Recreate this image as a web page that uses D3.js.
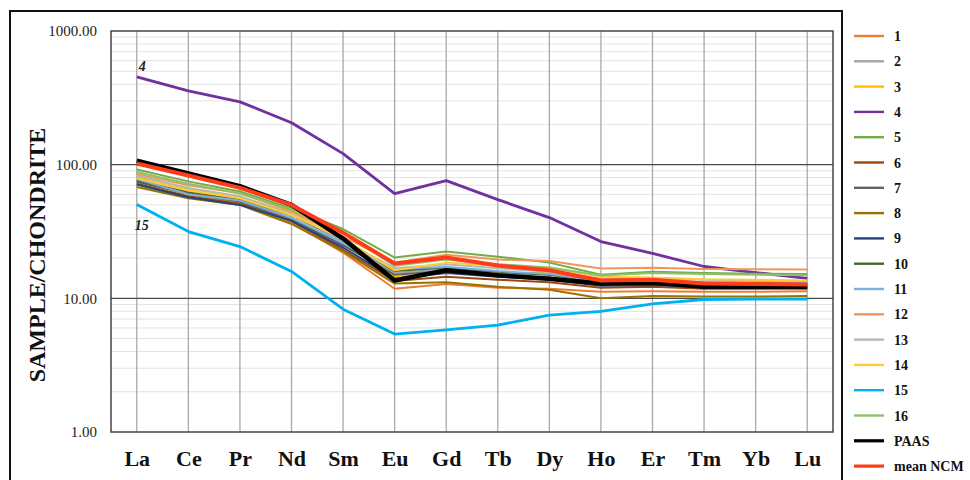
<!DOCTYPE html>
<html>
<head>
<meta charset="utf-8">
<script src="https://cdn.jsdelivr.net/npm/d3@7"></script>
<style>
  body { margin: 0; background: #fff; }
  svg text { font-family: "Liberation Serif", "Times New Roman", serif; }
</style>
</head>
<body>
<svg id="chart" width="970" height="480"></svg>
<script>
// REE elements along the x axis
var elements = ["La","Ce","Pr","Nd","Sm","Eu","Gd","Tb","Dy","Ho","Er","Tm","Yb","Lu"];
var yTicks = [1, 10, 100, 1000];

// chondrite-normalised values
var s1  = [75, 60, 52, 37, 22, 11.8, 12.8, 12.0, 11.8, 11.2, 11.3, 11.2, 11.2, 11.3];
var s2  = [80, 63, 55, 40, 25, 15.5, 16.5, 15.5, 15.0, 13.5, 13.5, 13.0, 13.0, 13.0];
var s3  = [82, 66, 57, 44, 27, 14.5, 15.5, 15.5, 15.5, 13.5, 13.8, 13.2, 12.8, 12.5];
var s4  = [454, 357, 295, 206, 121, 60.8, 76, 54.8, 40.2, 26.6, 21.7, 17.3, 15.6, 14.1];
var s5  = [92, 75, 63, 47, 33, 20.2, 22.4, 20.5, 18.5, 15.0, 15.8, 15.5, 15.3, 15.2];
var s6  = [72, 58, 51, 38, 23, 13.5, 14.5, 13.8, 13.2, 12.0, 12.2, 11.8, 11.8, 11.8];
var s7  = [74, 61, 53, 39, 25, 15.0, 16.0, 15.0, 14.3, 12.8, 13.0, 12.6, 12.6, 12.5];
var s8  = [68, 56, 50, 36, 22.5, 12.9, 13.2, 12.2, 11.6, 10.0, 10.4, 10.3, 10.3, 10.4];
var s9  = [71, 57, 50, 38, 24, 14.0, 15.5, 14.5, 13.8, 12.4, 12.6, 12.2, 12.2, 12.1];
var s10 = [76, 62, 55, 42, 27, 16.0, 17.0, 15.8, 15.0, 13.2, 13.4, 13.0, 12.9, 12.8];
var s11 = [78, 60, 54, 40, 26, 16.5, 17.2, 16.0, 15.2, 13.4, 13.6, 13.2, 13.2, 13.0];
var s12 = [85, 70, 61, 45, 29, 18.5, 21.2, 19.5, 19.0, 16.7, 16.9, 16.6, 16.5, 16.4];
var s13 = [83, 67, 58, 43, 27, 16.8, 18.0, 16.8, 15.8, 14.0, 14.2, 13.8, 13.6, 13.5];
var s14 = [79, 64, 56, 42, 28, 16.2, 18.5, 17.5, 17.0, 14.5, 14.3, 13.9, 13.8, 13.6];
var s15 = [50.3, 31.6, 24.4, 15.9, 8.3, 5.4, 5.8, 6.3, 7.5, 8.0, 9.1, 9.8, 9.85, 9.85];
var s16 = [88, 72, 61, 46, 31, 17.5, 19.5, 18.0, 17.0, 14.8, 15.5, 15.2, 15.0, 14.9];
var paas = [107, 86, 69, 50, 28, 13.6, 16.2, 14.9, 14.0, 12.9, 13.1, 12.2, 12.2, 12.2];
var ncm  = [102, 83, 67, 50, 31, 18.2, 20.2, 17.6, 16.2, 13.6, 13.8, 12.9, 12.8, 12.7];

var seriesNames = ["1","2","3","4","5","6","7","8","9","10","11","12","13","14","15","16","PAAS","mean NCM"];
var seriesValues = [s1,s2,s3,s4,s5,s6,s7,s8,s9,s10,s11,s12,s13,s14,s15,s16,paas,ncm];
var colors = ["#ED7D31","#A5A5A5","#FFC000","#7030A0","#70AD47","#9E480E","#636363","#997300",
              "#264478","#43682B","#7CAFDD","#F1975A","#B7B7B7","#FFCD33","#00B0F0","#8CC168",
              "#000000","#FF3B1A"];
var widths = [2,2,2,2.8,2,2,2,2,2,2,2,2,2,2,2.8,2,4.5,4];

(function() {
  var svg = d3.select("#chart");
  var pLeft = 111, pRight = 833, pTop = 31, pBottom = 432;

  var x = d3.scalePoint().domain(elements).range([pLeft, pRight]).padding(0.5);
  var y = d3.scaleLog().domain([1, 1000]).range([pBottom, pTop]);

  // outer frame
  svg.append("rect").attr("x", 10).attr("y", 11).attr("width", 832).attr("height", 490)
    .attr("fill", "none").attr("stroke", "#111").attr("stroke-width", 2);

  // minor horizontal grid
  var minor = [];
  [1, 10, 100].forEach(function(d) { for (var k = 2; k <= 9; k++) minor.push(d * k); });
  svg.append("g").selectAll("line").data(minor).enter().append("line")
    .attr("x1", pLeft).attr("x2", pRight)
    .attr("y1", function(d) { return y(d); }).attr("y2", function(d) { return y(d); })
    .attr("stroke", "#e2e2e2").attr("stroke-width", 1);

  // vertical grid at each element
  svg.append("g").selectAll("line").data(elements).enter().append("line")
    .attr("x1", function(d) { return x(d); }).attr("x2", function(d) { return x(d); })
    .attr("y1", pTop).attr("y2", pBottom)
    .attr("stroke", "#a8a8a8").attr("stroke-width", 1.3);

  // major horizontal grid
  svg.append("g").selectAll("line").data([10, 100]).enter().append("line")
    .attr("x1", pLeft).attr("x2", pRight)
    .attr("y1", function(d) { return y(d); }).attr("y2", function(d) { return y(d); })
    .attr("stroke", "#4a4a4a").attr("stroke-width", 1.3);

  // plot border
  svg.append("rect").attr("x", pLeft).attr("y", pTop).attr("width", pRight - pLeft).attr("height", pBottom - pTop)
    .attr("fill", "none").attr("stroke", "#444").attr("stroke-width", 1.5);

  // y axis labels
  var yAxis = d3.axisLeft(y).tickValues(yTicks).tickSize(0).tickPadding(14)
    .tickFormat(d3.format(".2f"));
  var gy = svg.append("g").attr("transform", "translate(" + pLeft + ",0)").call(yAxis);
  gy.select(".domain").remove();
  gy.selectAll("text").style("font-family", "Liberation Serif, serif").style("font-size", "15px").attr("fill", "#222");

  // x axis labels
  var xAxis = d3.axisBottom(x).tickSize(0).tickPadding(18);
  var gx = svg.append("g").attr("transform", "translate(0," + pBottom + ")").call(xAxis);
  gx.select(".domain").remove();
  gx.selectAll("text").style("font-family", "Liberation Serif, serif").style("font-size", "22px")
    .style("font-weight", "bold").attr("fill", "#111");

  // y title
  svg.append("text").attr("transform", "translate(45,255) rotate(-90)")
    .attr("text-anchor", "middle").style("font-size", "24px").style("font-weight", "bold")
    .attr("fill", "#111").text("SAMPLE/CHONDRITE");

  // lines
  var line = d3.line().x(function(d, i) { return x(elements[i]); }).y(function(d) { return y(d); });
  svg.append("g").selectAll("path").data(seriesValues).enter().append("path")
    .attr("d", line).attr("fill", "none")
    .attr("stroke", function(d, i) { return colors[i]; })
    .attr("stroke-width", function(d, i) { return widths[i]; })
    .attr("stroke-linejoin", "round");

  // sample annotations
  svg.append("text").attr("x", x("La") + 2).attr("y", y(s4[0]) - 6)
    .style("font-size", "14px").style("font-weight", "bold").style("font-style", "italic")
    .attr("fill", "#222").text("4");
  svg.append("text").attr("x", x("La") - 2).attr("y", y(s15[0]) + 25)
    .style("font-size", "14px").style("font-weight", "bold").style("font-style", "italic")
    .attr("fill", "#222").text("15");

  // legend
  var lg = svg.append("g").selectAll("g").data(seriesNames).enter().append("g")
    .attr("transform", function(d, i) { return "translate(854," + (36 + i * 25.3) + ")"; });
  lg.append("line").attr("x1", 0).attr("x2", 30).attr("y1", 0).attr("y2", 0)
    .attr("stroke", function(d, i) { return colors[i]; })
    .attr("stroke-width", function(d, i) { return i >= 16 ? 3.2 : 2.4; });
  lg.append("text").attr("x", 40).attr("y", 5)
    .style("font-size", "14px").style("font-weight", "bold").attr("fill", "#111")
    .text(function(d) { return d; });
})();
</script>
</body>
</html>
